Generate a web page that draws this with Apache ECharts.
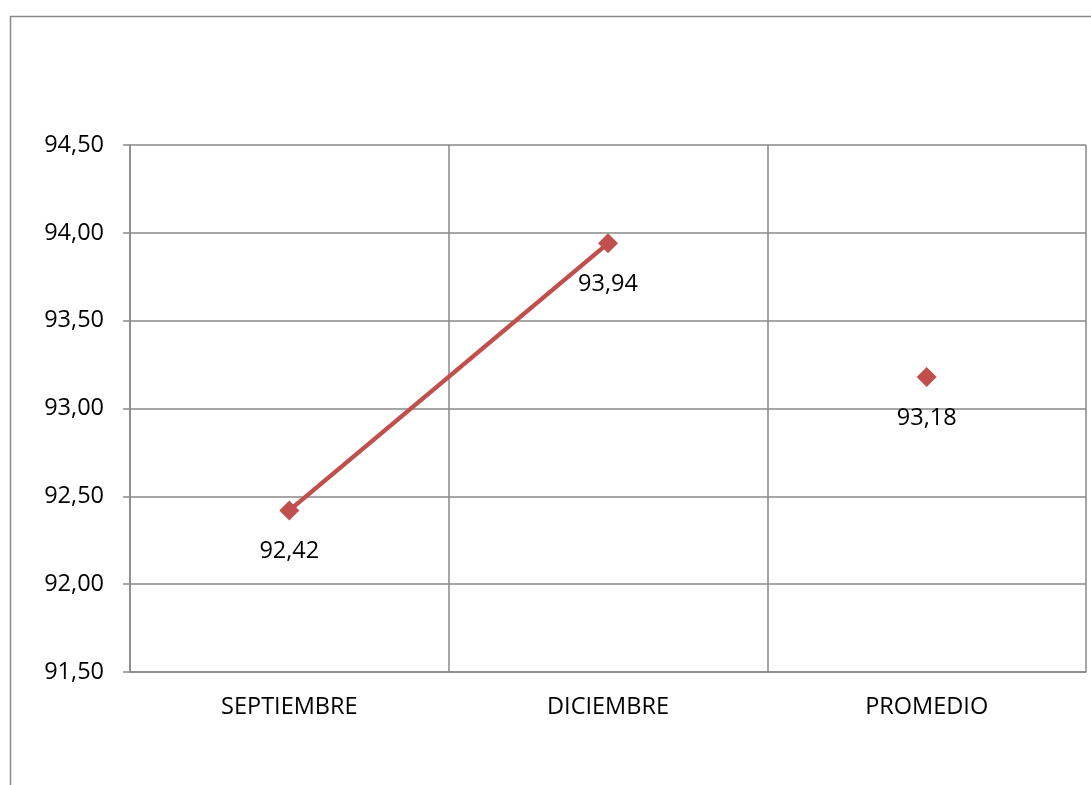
<!DOCTYPE html>
<html>
<head>
<meta charset="utf-8">
<script src="https://cdn.jsdelivr.net/npm/echarts@6/dist/echarts.min.js"></script>
<style>
html,body{margin:0;padding:0;background:#fff;}
#chart{width:1091px;height:785px;}
</style>
</head>
<body>
<div id="chart"></div>
<script>
const categories = ['SEPTIEMBRE', 'DICIEMBRE', 'PROMEDIO'];
const lineValues = [92.42, 93.94, '-'];
const averageValues = ['-', '-', 93.18];
const yMin = 91.5, yMax = 94.5, yStep = 0.5;

const fmt = v => Number(v).toFixed(2).replace('.', ',');
const FONT = 'Open Sans';
const FS = 23.5;
const RED = '#C0504D';
const GRID = '#898989';

const labelCfg = {
  show: true, position: 'bottom', distance: 19,
  color: '#000', fontFamily: FONT, fontSize: FS,
  formatter: p => fmt(p.value)
};

const chart = echarts.init(document.getElementById('chart'), null, {renderer: 'canvas'});
chart.setOption({
  animation: false,
  backgroundColor: '#fff',
  graphic: [{
    type: 'rect', left: 8, top: 14, z: -1,
    shape: {width: 1200, height: 1000},
    style: {fill: 'none', stroke: GRID, lineWidth: 1.5}
  }],
  grid: {left: 130, right: 5, top: 145, bottom: 113, containLabel: false},
  xAxis: {
    type: 'category', data: categories, boundaryGap: true,
    axisLine: {show: true, lineStyle: {color: GRID, width: 1.5}},
    axisTick: {show: false},
    splitLine: {show: true, lineStyle: {color: GRID, width: 1.5}},
    axisLabel: {color: '#000', fontFamily: FONT, fontSize: FS, margin: 23}
  },
  yAxis: {
    type: 'value', min: yMin, max: yMax, interval: yStep,
    axisLine: {show: true, lineStyle: {color: GRID, width: 1.5}},
    axisTick: {show: true, length: 7, lineStyle: {color: GRID, width: 1.5}},
    splitLine: {show: true, lineStyle: {color: GRID, width: 1.5}},
    axisLabel: {color: '#000', fontFamily: FONT, fontSize: FS, margin: 26, formatter: v => fmt(v)}
  },
  series: [
    {
      type: 'line', data: lineValues, connectNulls: false,
      symbol: 'diamond', symbolSize: 20,
      lineStyle: {color: RED, width: 4.5},
      itemStyle: {color: RED},
      label: labelCfg
    },
    {
      type: 'line', data: averageValues,
      symbol: 'diamond', symbolSize: 20,
      lineStyle: {color: RED, width: 4.5},
      itemStyle: {color: RED},
      label: labelCfg
    }
  ]
});
</script>
</body>
</html>
